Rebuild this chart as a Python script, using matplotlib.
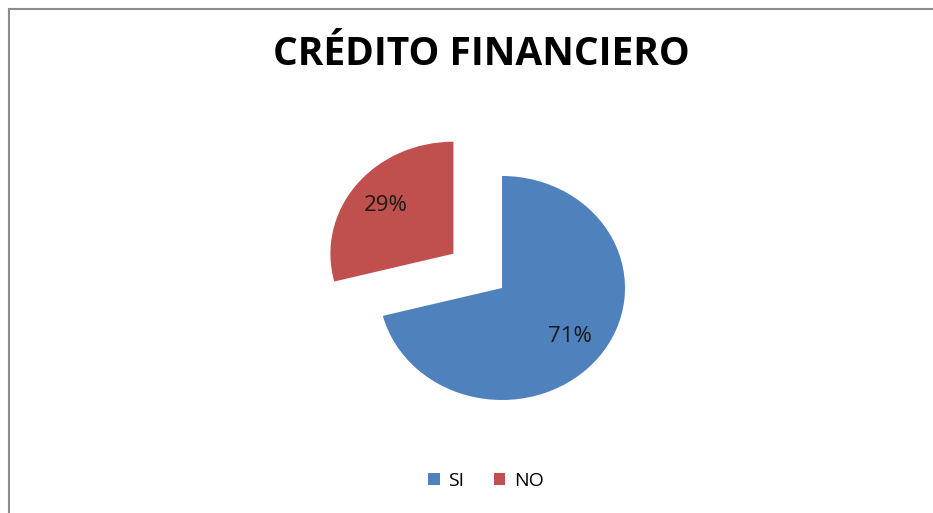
import matplotlib
matplotlib.use("Agg")
import matplotlib.pyplot as plt
from matplotlib.lines import Line2D
from matplotlib.patches import Patch

# data
labels = ["SI", "NO"]
shares = [71, 29]
colors = ["#4F81BD", "#C0504D"]
explode = [0, 0.5]

W, H = 933, 513
fig = plt.figure(figsize=(W / 100, H / 100), dpi=100)
fig.patch.set_facecolor("white")

# pie centre / radii in pixels (picture is slightly stretched sideways)
cx, cy, rx, ry = 502, 288, 123, 112
lim = 1.6
ax = fig.add_axes([(cx - lim * rx) / W, (H - cy - lim * ry) / H,
                   2 * lim * rx / W, 2 * lim * ry / H])

wedges, texts, autotexts = ax.pie(
    shares, colors=colors, explode=explode, startangle=90, counterclock=False,
    autopct="%1.0f%%", pctdistance=0.7,
    wedgeprops=dict(linewidth=0),
    textprops=dict(fontsize=16, color="#1a1a1a", family=["Open Sans", "DejaVu Sans"]))
ax.set_aspect("auto")
ax.set_xlim(-lim, lim)
ax.set_ylim(-lim, lim)
ax.axis("off")

fig.text(481 / W, 1 - 55 / H, "CRÉDITO FINANCIERO", ha="center", va="center",
         fontsize=28, fontweight="bold", family=["Open Sans", "DejaVu Sans"])

handles = [Patch(facecolor=c, edgecolor="none", label=l) for c, l in zip(colors, labels)]
fig.legend(handles=handles, loc="center", bbox_to_anchor=(486 / W, 1 - 481 / H),
           ncol=2, frameon=False, handlelength=0.6, handleheight=0.6,
           handletextpad=0.45, columnspacing=1.5,
           prop=dict(size=14, family=["Open Sans", "DejaVu Sans"]))

# grey frame of the chart area (left and top edges visible)
fig.add_artist(Line2D([9 / W, 9 / W], [0, 1 - 9 / H], color="#8c8c8c", lw=1.5))
fig.add_artist(Line2D([9 / W, 1], [1 - 9 / H, 1 - 9 / H], color="#8c8c8c", lw=1.5))

fig.savefig("out.png", dpi=100)
